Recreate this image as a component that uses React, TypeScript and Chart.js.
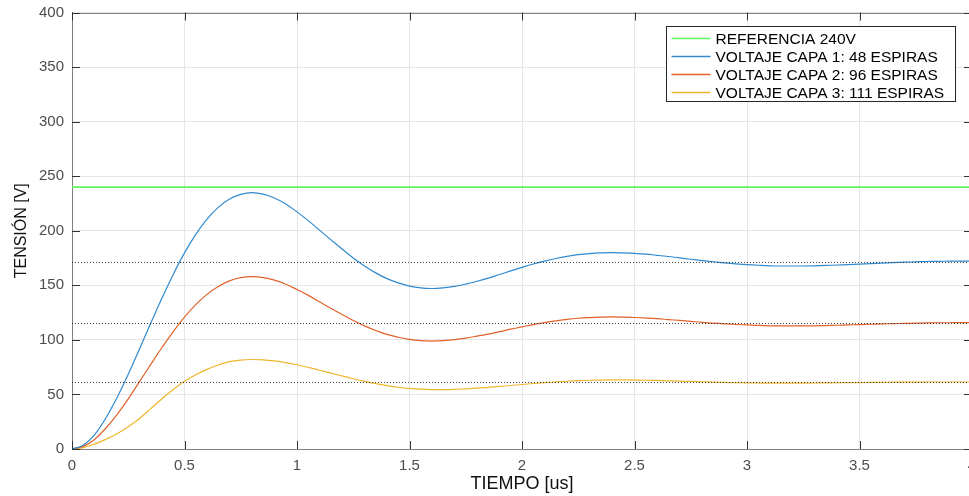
import React, { useEffect, useRef } from "react";
import { Chart, registerables } from "chart.js";

Chart.register(...registerables);

// Time samples in microseconds
const TIME = [
  0, 0.05, 0.1, 0.15, 0.2, 0.25, 0.3, 0.35, 0.4, 0.45,
  0.5, 0.55, 0.6, 0.65, 0.7, 0.75, 0.8, 0.85, 0.9, 0.95,
  1.0, 1.05, 1.1, 1.15, 1.2, 1.25, 1.3, 1.35, 1.4, 1.45,
  1.5, 1.55, 1.6, 1.65, 1.7, 1.75, 1.8, 1.85, 1.9, 1.95,
  2.0, 2.05, 2.1, 2.15, 2.2, 2.25, 2.3, 2.35, 2.4, 2.45,
  2.5, 2.55, 2.6, 2.65, 2.7, 2.75, 2.8, 2.85, 2.9, 2.95,
  3.0, 3.05, 3.1, 3.15, 3.2, 3.25, 3.3, 3.35, 3.4, 3.45,
  3.5, 3.55, 3.6, 3.65, 3.7, 3.75, 3.8, 3.85, 3.9, 3.95, 4.0,
];

const CAPA1 = [
  0, 3.5, 13, 28.2, 47, 68.4, 91.7, 115.2, 138.3, 160,
  179.7, 196.7, 210.7, 221.4, 229.1, 233.4, 235, 233.6, 230, 224.5,
  217.3, 209.3, 200.6, 191.9, 183.3, 175.1, 167.8, 161.4, 156.1, 152.2,
  149.3, 147.6, 147.1, 147.7, 149, 151.1, 153.7, 156.6, 159.9, 163.2,
  166.4, 169.5, 172.2, 174.6, 176.6, 178.1, 179.1, 179.7, 180, 179.7,
  179.2, 178.5, 177.5, 176.4, 175.1, 173.9, 172.7, 171.6, 170.5, 169.6,
  169, 168.4, 167.9, 167.7, 167.7, 167.7, 167.9, 168.2, 168.6, 169,
  169.5, 169.9, 170.4, 170.8, 171.2, 171.5, 171.8, 172, 172.1, 172.2, 172.2,
];

const CAPA2 = [
  0, 2.4, 8.7, 19, 31.6, 46, 61.7, 77.5, 93, 107.6,
  120.9, 132.3, 141.7, 148.9, 154.1, 157, 158, 157.1, 154.7, 151,
  146.1, 140.8, 134.9, 129, 123.3, 117.8, 112.8, 108.6, 105, 102.4,
  100.4, 99.3, 98.9, 99.3, 100.2, 101.6, 103.4, 105.3, 107.5, 109.8,
  111.9, 114, 115.8, 117.4, 118.8, 119.8, 120.4, 120.8, 121, 120.8,
  120.5, 120, 119.4, 118.6, 117.8, 117, 116.1, 115.4, 114.7, 114.1,
  113.7, 113.2, 112.9, 112.8, 112.8, 112.8, 112.9, 113.1, 113.4, 113.7,
  114, 114.3, 114.6, 114.9, 115.1, 115.3, 115.5, 115.7, 115.7, 115.8, 115.8,
];

const CAPA3 = [
  0, 1.3, 4.5, 8.8, 14, 20.5, 28, 37, 46, 54.5,
  62, 68, 73, 77, 80, 81.5, 82, 81.7, 80.7, 79.2,
  77.2, 74.8, 72.2, 69.6, 67, 64.4, 62, 59.9, 58.1, 56.6,
  55.5, 54.8, 54.4, 54.4, 54.6, 55.1, 55.7, 56.5, 57.3, 58.2,
  59.1, 60, 60.8, 61.5, 62.1, 62.6, 63, 63.2, 63.3, 63.3,
  63.2, 63, 62.8, 62.5, 62.2, 61.9, 61.6, 61.3, 61, 60.8,
  60.6, 60.5, 60.4, 60.4, 60.4, 60.4, 60.5, 60.6, 60.7, 60.8,
  60.9, 61, 61.1, 61.2, 61.3, 61.3, 61.4, 61.4, 61.4, 61.4, 61.4,
];

const REFERENCE = 240;
const STEADY = [171, 115, 61];
const X_RANGE = [0, 4];
const Y_TICKS = [0, 50, 100, 150, 200, 250, 300, 350, 400];
const X_TICKS = [0, 0.5, 1, 1.5, 2, 2.5, 3, 3.5, 4];

const LEGEND_LABELS = [
  "REFERENCIA 240V",
  "VOLTAJE CAPA 1: 48 ESPIRAS",
  "VOLTAJE CAPA 2: 96 ESPIRAS",
  "VOLTAJE CAPA 3: 111 ESPIRAS",
];

const COLORS = ["rgb(95,245,95)", "#2f8ad0", "#e0622a", "#f0b62e"];
const FONT = "'Liberation Sans', Arial, Helvetica, sans-serif";

const toXY = (vals: number[]) => vals.map((v, i) => ({ x: TIME[i], y: v }));

const framePlugin = {
  id: "matlabFrame",
  afterDraw(chart: any) {
    const { ctx, chartArea, scales } = chart;
    const { left, right, top, bottom } = chartArea;
    const xs = scales.x;
    const ys = scales.y;
    ctx.save();
    // top and right frame lines
    ctx.strokeStyle = "#7f7f7f";
    ctx.lineWidth = 1;
    ctx.beginPath();
    ctx.moveTo(left, Math.round(top) + 0.5);
    ctx.lineTo(right, Math.round(top) + 0.5);
    ctx.moveTo(Math.round(right) - 0.5, top);
    ctx.lineTo(Math.round(right) - 0.5, bottom);
    ctx.stroke();
    // inward ticks
    ctx.strokeStyle = "#333";
    const tl = 8;
    ctx.beginPath();
    for (const v of Y_TICKS) {
      const y = Math.round(ys.getPixelForValue(v)) + 0.5;
      ctx.moveTo(left, y);
      ctx.lineTo(left + tl, y);
      ctx.moveTo(right, y);
      ctx.lineTo(right - tl, y);
    }
    for (const v of X_TICKS) {
      const x = Math.round(xs.getPixelForValue(v)) + 0.5;
      ctx.moveTo(x, bottom);
      ctx.lineTo(x, bottom - tl);
      ctx.moveTo(x, top);
      ctx.lineTo(x, top + tl);
    }
    ctx.stroke();

    // legend box
    const bx = Math.round(right - 306) + 0.5;
    const by = Math.round(top + 13) + 0.5;
    const bw = 289;
    const bh = 75;
    ctx.fillStyle = "#fff";
    ctx.fillRect(bx, by, bw, bh);
    ctx.strokeStyle = "#262626";
    ctx.lineWidth = 1;
    ctx.strokeRect(bx, by, bw, bh);
    ctx.font = `15.5px ${FONT}`;
    ctx.textBaseline = "middle";
    ctx.textAlign = "left";
    LEGEND_LABELS.forEach((lab, i) => {
      const y = by + 12 + i * 18;
      ctx.strokeStyle = COLORS[i];
      ctx.lineWidth = 1.5;
      ctx.beginPath();
      ctx.moveTo(bx + 5, y);
      ctx.lineTo(bx + 44, y);
      ctx.stroke();
      ctx.fillStyle = "#000";
      ctx.fillText(lab, bx + 49, y + 1);
    });
    ctx.restore();
  },
};

export default function App() {
  const ref = useRef<HTMLCanvasElement | null>(null);

  useEffect(() => {
    if (!ref.current) return;
    const dotted = STEADY.map((v) => ({
      label: "steady " + v,
      data: [
        { x: X_RANGE[0], y: v },
        { x: X_RANGE[1], y: v },
      ],
      borderColor: "#333",
      borderWidth: 1,
      borderDash: [1, 2],
      pointRadius: 0,
      order: 0,
    }));
    const curve = (i: number, vals: number[]) => ({
      label: LEGEND_LABELS[i],
      data: toXY(vals),
      borderColor: COLORS[i],
      borderWidth: 1.2,
      pointRadius: 0,
      tension: 0.4,
      order: i + 1,
    });
    const chart = new Chart(ref.current, {
      type: "line",
      data: {
        datasets: [
          {
            label: LEGEND_LABELS[0],
            data: [
              { x: X_RANGE[0], y: REFERENCE },
              { x: X_RANGE[1], y: REFERENCE },
            ],
            borderColor: COLORS[0],
            borderWidth: 1.8,
            pointRadius: 0,
            order: 1,
          },
          curve(1, CAPA1),
          curve(2, CAPA2),
          curve(3, CAPA3),
          ...dotted,
        ] as any,
      },
      options: {
        animation: false,
        responsive: false,
        maintainAspectRatio: false,
        layout: { padding: { top: 12.5, right: 18, left: 0, bottom: 0 } },
        plugins: {
          legend: { display: false },
          tooltip: { enabled: false },
        },
        scales: {
          x: {
            type: "linear",
            min: X_RANGE[0],
            max: X_RANGE[1],
            afterBuildTicks: (s: any) => {
              s.ticks = X_TICKS.map((v) => ({ value: v }));
            },
            afterFit: (s: any) => {
              s.height = 47;
              s.paddingLeft = 0;
              s.paddingRight = 0;
            },
            grid: { color: "#e6e6e6", drawTicks: false, lineWidth: 1 },
            border: { color: "#7f7f7f", width: 1 },
            ticks: {
              color: "#4d4d4d",
              font: { family: FONT, size: 15 },
              padding: 8,
              maxRotation: 0,
              autoSkip: false,
              callback: (v: any) => String(Number(v)),
            },
            title: {
              display: true,
              text: "TIEMPO [us]",
              color: "#111",
              font: { family: FONT, size: 18 },
              padding: { top: 0, bottom: 1 },
            },
          },
          y: {
            type: "linear",
            min: 0,
            max: 400,
            afterBuildTicks: (s: any) => {
              s.ticks = Y_TICKS.map((v) => ({ value: v }));
            },
            afterFit: (s: any) => {
              s.width = 72;
              s.paddingTop = 0;
              s.paddingBottom = 0;
            },
            grid: { color: "#e6e6e6", drawTicks: false, lineWidth: 1 },
            border: { color: "#7f7f7f", width: 1 },
            ticks: {
              color: "#4d4d4d",
              font: { family: FONT, size: 15 },
              padding: 8,
              callback: (v: any) => String(Number(v)),
            },
            title: {
              display: true,
              text: "TENSIÓN [V]",
              color: "#111",
              font: { family: FONT, size: 16 },
              padding: { top: 12, bottom: 0 },
            },
          },
        },
      },
      plugins: [framePlugin],
    });
    return () => chart.destroy();
  }, []);

  return (
    <div
      style={{
        position: "fixed",
        left: 0,
        top: 0,
        width: 969,
        height: 496,
        overflow: "hidden",
        background: "#fff",
      }}
    >
      <canvas ref={ref} width={990} height={496} style={{ width: 990, height: 496, display: "block" }} />
    </div>
  );
}
